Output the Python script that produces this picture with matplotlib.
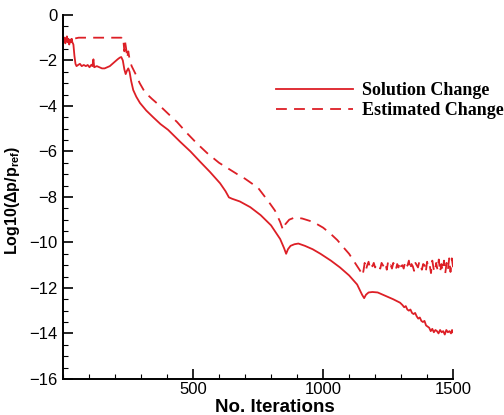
import numpy as np
import matplotlib
matplotlib.use("Agg")
import matplotlib.pyplot as plt
from matplotlib.ticker import MultipleLocator

plt.rcParams['font.family'] = ['Liberation Sans', 'DejaVu Sans']
plt.rcParams['mathtext.fontset'] = 'custom'
plt.rcParams['mathtext.rm'] = 'Liberation Sans:bold'
plt.rcParams['mathtext.it'] = 'Liberation Sans:bold'
plt.rcParams['mathtext.default'] = 'rm'

RED = '#dd1f26'

# Solution change (solid)
sol_it = [0, 3, 6, 9, 12, 15, 18, 21, 24, 27,
          30, 33, 36, 40, 44, 48, 52, 58, 65, 72,
          80, 88, 95, 102, 108, 113, 117, 120, 130, 140,
          150, 160, 170, 180, 190, 200, 210, 218, 224, 230,
          236, 241, 246, 251, 256, 262, 270, 282, 296, 320,
          347, 375, 404, 450, 490, 527, 565, 604, 625, 638,
          650, 680, 720, 760, 800, 835, 850, 858, 865, 875,
          890, 905, 930, 960, 990, 1030, 1065, 1100, 1131, 1150,
          1158, 1165, 1175, 1190, 1210, 1240, 1270, 1296, 1305, 1312,
          1318, 1324, 1330, 1336, 1342, 1348, 1354, 1360, 1366, 1372,
          1378, 1384, 1390, 1396, 1402, 1408, 1414, 1420, 1426, 1432,
          1438, 1444, 1450, 1456, 1462, 1468, 1474, 1480, 1486, 1492,
          1496, 1500]
sol_val = [-1.0, -1.15, -1.0, -1.25, -1.1, -0.95, -1.2, -1.05, -1.3, -1.1,
           -1.2, -1.05, -1.2, -1.3, -1.8, -2.15, -2.25, -2.2, -2.15, -2.25,
           -2.2, -2.25, -2.2, -2.3, -2.2, -2.25, -1.95, -2.3, -2.25, -2.3,
           -2.35, -2.35, -2.3, -2.25, -2.15, -2.05, -1.95, -1.88, -1.85, -2.0,
           -2.4, -2.6, -2.45, -2.35, -2.5, -2.9, -3.3, -3.6, -3.87, -4.2,
           -4.5, -4.8, -5.05, -5.57, -6.0, -6.45, -6.9, -7.4, -7.75, -8.02,
           -8.08, -8.2, -8.45, -8.8, -9.25, -9.85, -10.25, -10.5, -10.3, -10.15,
           -10.08, -10.05, -10.15, -10.3, -10.5, -10.8, -11.1, -11.45, -11.85, -12.3,
           -12.45, -12.3, -12.2, -12.18, -12.2, -12.35, -12.5, -12.65, -12.75, -12.85,
           -12.8, -12.95, -13.0, -12.95, -13.1, -13.15, -13.1, -13.25, -13.35, -13.3,
           -13.45, -13.5, -13.45, -13.65, -13.7, -13.75, -13.9, -13.8, -13.95, -13.85,
           -13.9, -14.0, -13.85, -13.95, -13.9, -14.05, -13.85, -13.95, -13.9, -14.0,
           -13.85, -13.95]

# Estimated change (dashed)
est_it = [0, 3, 6, 9, 12, 15, 18, 21, 24, 27,
          30, 33, 36, 40, 60, 100, 150, 200, 225, 228,
          232, 236, 239, 243, 247, 251, 256, 264, 277, 295,
          315, 343, 373, 405, 438, 477, 515, 554, 600, 642,
          670, 700, 750, 790, 815, 835, 846, 855, 870, 892,
          920, 962, 1000, 1027, 1055, 1077, 1100, 1123, 1140, 1148,
          1152, 1156,
          1160, 1165, 1170, 1175, 1180, 1185, 1190, 1195, 1200, 1205,
          1210, 1215, 1220, 1225, 1230, 1235, 1240, 1245, 1250, 1255,
          1260, 1265, 1270, 1275, 1280, 1285, 1290, 1295, 1300, 1305,
          1310, 1315, 1320, 1325, 1330, 1335, 1340, 1345, 1350, 1355,
          1360, 1365, 1370, 1375, 1380, 1385, 1390, 1395, 1400, 1405,
          1410, 1415, 1420, 1425, 1430, 1435, 1440, 1445, 1450, 1455,
          1460, 1465, 1470, 1475, 1480, 1485, 1490, 1495, 1500]
est_val = [-1.0, -1.15, -1.0, -1.25, -1.1, -0.95, -1.2, -1.05, -1.3, -1.1,
           -1.2, -1.05, -1.2, -1.05, -1.0, -1.0, -1.0, -1.0, -1.0, -0.95,
           -1.1, -1.6, -1.2, -1.5, -1.9, -1.6, -1.95, -2.25, -2.55, -3.0,
           -3.4, -3.7, -4.0, -4.35, -4.7, -5.2, -5.65, -6.07, -6.5, -6.8,
           -7.0, -7.2, -7.6, -8.2, -8.6, -9.1, -9.45, -9.2, -9.0, -8.9,
           -8.95, -9.1, -9.35, -9.6, -9.9, -10.2, -10.5, -10.9, -11.2, -11.35,
           -11.45, -11.2,
           -10.9, -11.2, -11.0, -10.85, -11.1, -10.95, -11.05, -10.9, -11.1, -11.0,
           -10.95, -11.05, -11.15, -10.9, -11.0, -11.1, -10.95, -11.2, -10.85, -11.05,
           -11.0, -11.15, -10.9, -11.0, -11.2, -10.95, -11.1, -10.85, -11.05, -11.0,
           -11.15, -10.9, -11.1, -11.0, -10.8, -11.2, -10.95, -11.05, -11.25, -10.9,
           -11.0, -11.1, -10.85, -11.05, -11.2, -10.95, -11.0, -11.3, -10.85, -11.1,
           -11.0, -11.35, -10.8, -11.15, -11.3, -10.9, -11.2, -10.75, -11.3, -10.95,
           -11.25, -10.8, -11.35, -10.9, -11.2, -10.7, -11.3, -10.7, -11.1]

fig = plt.figure(figsize=(5.04, 4.15), dpi=100)
ax = fig.add_axes([0.125, 0.087, 0.774, 0.877])

ax.plot(sol_it, sol_val, color=RED, lw=1.3, label='Solution Change')
ax.plot(est_it, est_val, color=RED, lw=1.3, dashes=(6, 4), label='Estimated Change')

ax.set_xlim(0, 1500)
ax.set_ylim(-16, 0)
ax.set_xticks([500, 1000, 1500])
ax.xaxis.set_minor_locator(MultipleLocator(100))
ax.yaxis.set_major_locator(MultipleLocator(2))
ax.yaxis.set_minor_locator(MultipleLocator(0.5))
ax.tick_params(which='major', direction='in', length=7, width=1.2, labelsize=12)
ax.tick_params(axis='x', which='major', pad=2)
ax.tick_params(axis='y', which='major', pad=4)
ax.tick_params(which='minor', direction='in', length=3.5, width=0.8)
for s in ['top', 'right']:
    ax.spines[s].set_visible(False)
for s in ['left', 'bottom']:
    ax.spines[s].set_linewidth(1.4)

ax.set_xlabel('No. Iterations', fontsize=13.5, fontweight='bold')
ax.xaxis.set_label_coords(0.544, -0.056)
ax.set_ylabel(r'Log10($\Delta$p/p$_{ref}$)', fontsize=11.5, fontweight='bold')
ax.yaxis.set_label_coords(-0.105, 0.49)

leg = ax.legend(loc='upper left', bbox_to_anchor=(0.546, 0.815), frameon=False,
                borderpad=0, borderaxespad=0,
                handlelength=4.26, handletextpad=0.5, labelspacing=0.17,
                prop={'family': 'Liberation Serif', 'weight': 'bold', 'size': 13})

fig.savefig('out.png', dpi=100)
